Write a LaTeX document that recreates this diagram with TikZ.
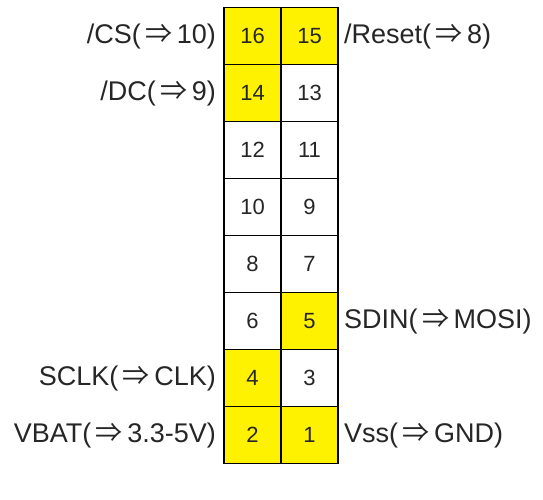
\documentclass[tikz,border=0pt]{standalone}
\usepackage{fontspec}
\setmainfont{Liberation Sans}
\newfontfamily\jpfont{Noto Sans CJK JP}
\newcommand\darr{\hspace{4.5pt}{\jpfont ⇒}\hspace{4.5pt}}
\begin{document}
\begin{tikzpicture}[x=1pt,y=-1pt,
  cell/.style={draw=black, line width=1.8pt, minimum width=57pt, minimum height=57pt, inner sep=0pt, font=\fontsize{22}{22}\selectfont, text=black!85},
  yel/.style={cell, fill=yellow},
  wht/.style={cell, fill=white},
  lbl/.style={font=\fontsize{27}{27}\selectfont, inner sep=0pt, text=black!85}]
\useasboundingbox (0,0) rectangle (543,500);
% rows: centers 36,93,150,207,264,321,378,435 ; columns 252.5, 309.5
\node[yel] (p16) at (252.5,36) {16};
\node[yel] (p15) at (309.5,36) {15};
\node[yel] (p14) at (252.5,93) {14};
\node[wht] (p13) at (309.5,93) {13};
\node[wht] (p12) at (252.5,150) {12};
\node[wht] (p11) at (309.5,150) {11};
\node[wht] (p10) at (252.5,207) {10};
\node[wht] (p9) at (309.5,207) {9};
\node[wht] (p8) at (252.5,264) {8};
\node[wht] (p7) at (309.5,264) {7};
\node[wht] (p6) at (252.5,321) {6};
\node[yel] (p5) at (309.5,321) {5};
\node[yel] (p4) at (252.5,378) {4};
\node[wht] (p3) at (309.5,378) {3};
\node[yel] (p2) at (252.5,435) {2};
\node[yel] (p1) at (309.5,435) {1};
% labels
\node[lbl, anchor=east] (lcs) at (216,37) {/CS(\darr10)};
\node[lbl, anchor=west] (lrst) at (344,37) {/Reset(\darr8)};
\node[lbl, anchor=east] (ldc) at (216,94) {/DC(\darr9)};
\node[lbl, anchor=west] (lsdin) at (344,322) {SDIN(\darr MOSI)};
\node[lbl, anchor=east] (lsclk) at (216,379) {SCLK(\darr CLK)};
\node[lbl, anchor=east] (lvbat) at (216,436) {VBAT(\darr3.3-5V)};
\node[lbl, anchor=west] (lvss) at (344,436) {Vss(\darr GND)};
\end{tikzpicture}
\end{document}
